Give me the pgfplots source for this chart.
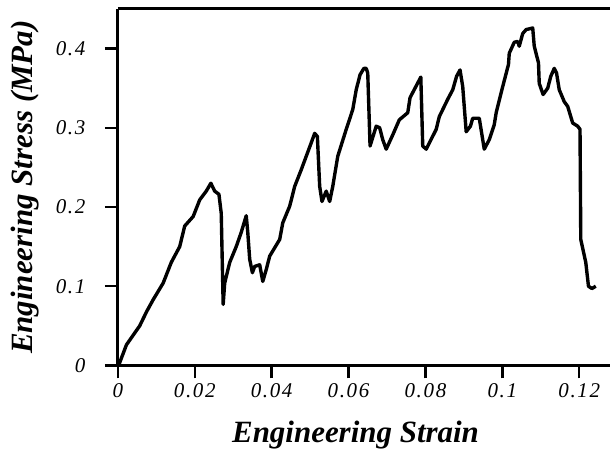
\documentclass[border=0pt]{standalone}
\usepackage{pgfplots}
\pgfplotsset{compat=1.18}
\usepackage{fontspec}
\setmainfont{Liberation Serif}
\newfontfamily\tickfam[LetterSpace=8]{Liberation Serif}

\newcommand{\tickfont}{\tickfam\fontsize{21bp}{21bp}\selectfont\itshape}
\newcommand{\labfont}{\fontsize{31bp}{31bp}\selectfont\bfseries\itshape}

\begin{document}
\begin{tikzpicture}
\begin{axis}[
    scale only axis,
    width=493bp, height=357bp,
    xmin=0, xmax=0.128,
    ymin=0, ymax=0.45,
    axis x line*=box, axis y line*=left,
    axis line style={line width=3bp},
    xtick={0,0.02,0.04,0.06,0.08,0.1,0.12},
    xticklabels={0,0.02,0.04,0.06,0.08,0.1,0.12},
    ytick={0,0.1,0.2,0.3,0.4},
    yticklabels={0,0.1,0.2,0.3,0.4},
    xtick pos=left, ytick pos=left,
    xtick align=outside, ytick align=outside,
    major tick length=13bp,
    xtick style={line width=2.4bp, black},
    ytick style={line width=2.4bp, black},
    tick label style={font=\tickfont},
    xticklabel style={yshift=-2bp},
    yticklabel style={xshift=-16bp},
    xlabel={Engineering Strain},
    ylabel={Engineering Stress (MPa)},
    every axis x label/.style={at={(axis description cs:0.483,-0.196)}, anchor=center, font=\labfont},
    every axis y label/.style={at={(axis description cs:-0.189,0.5)}, anchor=center, rotate=90, font=\labfont},
    clip=false,
]
\addplot[black, line width=3.4bp, line join=round] coordinates {
(0,0) (0.0003,0.001) (0.00225,0.026) (0.0057,0.050) (0.0075,0.068) (0.0092,0.083)
(0.0118,0.104) (0.0139,0.130) (0.0161,0.150) (0.0174,0.176) (0.0196,0.188)
(0.0213,0.209) (0.0230,0.220) (0.0242,0.230) (0.0252,0.220) (0.0263,0.216)
(0.0269,0.192) (0.0274,0.077) (0.0278,0.104) (0.0291,0.130) (0.0308,0.150)
(0.0321,0.168) (0.0334,0.189) (0.0338,0.168) (0.0343,0.134) (0.0350,0.117)
(0.0356,0.125) (0.0369,0.127) (0.0377,0.106) (0.0386,0.121) (0.0395,0.138)
(0.0421,0.159) (0.0429,0.180) (0.0447,0.201) (0.0460,0.226) (0.0477,0.247)
(0.0490,0.264) (0.0503,0.281) (0.0512,0.293) (0.0519,0.289) (0.0525,0.226)
(0.0531,0.207) (0.0542,0.220) (0.0551,0.207) (0.0559,0.226) (0.0572,0.264)
(0.0594,0.298) (0.0611,0.323) (0.0620,0.348) (0.0630,0.367) (0.0640,0.375)
(0.0646,0.375) (0.0650,0.369) (0.0656,0.277) (0.0672,0.302) (0.0681,0.300)
(0.0689,0.285) (0.0698,0.273) (0.0715,0.291) (0.0732,0.310) (0.0754,0.319)
(0.0760,0.338) (0.0788,0.364) (0.0793,0.277) (0.0802,0.273) (0.0828,0.298)
(0.0836,0.314) (0.0858,0.336) (0.0871,0.348) (0.0881,0.365) (0.0890,0.373)
(0.0897,0.352) (0.0906,0.295) (0.0917,0.302) (0.0923,0.312) (0.0940,0.312)
(0.0949,0.285) (0.0953,0.273) (0.0966,0.285) (0.0979,0.304) (0.0984,0.319)
(0.1001,0.352) (0.1016,0.380) (0.1018,0.394) (0.1031,0.408) (0.1040,0.409)
(0.1044,0.403) (0.1053,0.419) (0.1062,0.424) (0.1079,0.426) (0.1083,0.403)
(0.1094,0.382) (0.1096,0.356) (0.1106,0.342) (0.1118,0.350) (0.1126,0.365)
(0.1135,0.375) (0.1141,0.369) (0.1148,0.348) (0.1161,0.333) (0.1170,0.327)
(0.1183,0.306) (0.1196,0.302) (0.1202,0.298) (0.1204,0.159) (0.1217,0.130)
(0.1224,0.100) (0.1233,0.097) (0.1243,0.100)
};
\coordinate (bl) at (rel axis cs:0,0);
\coordinate (tr) at (rel axis cs:1,1);
\end{axis}
\pgfresetboundingbox
\path ([shift={(-118bp,-88bp)}]bl) rectangle ([shift={(1bp,9bp)}]tr);
\end{tikzpicture}
\end{document}
